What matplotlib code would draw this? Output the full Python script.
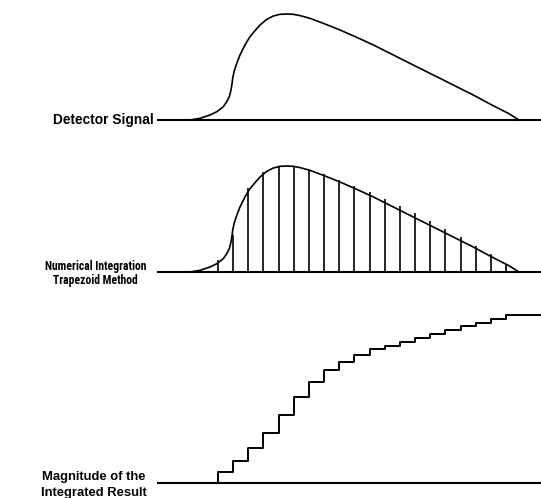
import numpy as np
import matplotlib
matplotlib.use("Agg")
import matplotlib.pyplot as plt
from matplotlib import font_manager

plt.rcParams["font.family"] = ["Liberation Sans", "DejaVu Sans"]

#### Data ####

# detector signal trace (time in sample intervals, amplitude normalised to peak)
signal_t = [-0.84, -0.18, 0.47, 0.92, 1.35, 1.58, 1.75, 1.86, 1.93, 1.97, 2.06,
            2.24, 2.45, 2.78, 3.11, 3.44, 3.77, 4.22, 4.65, 5.09, 5.53, 5.97,
            6.41, 7.07, 7.95, 9.05, 10.15, 11.25, 12.35, 13.45, 14.54, 15.65,
            16.75, 17.84, 18.94, 20.15, 20.86]
signal_v = [0.0, 0.016, 0.047, 0.078, 0.125, 0.173, 0.22, 0.283, 0.346, 0.393,
            0.456, 0.535, 0.613, 0.708, 0.786, 0.842, 0.896, 0.95, 0.981, 0.997,
            1.0, 0.997, 0.985, 0.959, 0.912, 0.849, 0.78, 0.708, 0.629, 0.55,
            0.472, 0.393, 0.314, 0.236, 0.151, 0.063, 0.0]

# sample points used by the trapezoid integration
sample_t = [1, 2, 3, 4, 5, 6, 7, 8, 9, 10, 11, 12, 13, 14, 15, 16, 17, 18, 19, 20]
sample_v = [0.113, 0.35, 0.792, 0.943, 1.0, 1.0, 0.962, 0.925, 0.868, 0.811,
            0.755, 0.689, 0.623, 0.557, 0.481, 0.406, 0.33, 0.245, 0.17, 0.075]

# running integral after each sample
integral_v = [0.067, 0.133, 0.21, 0.299, 0.402, 0.513, 0.602, 0.671, 0.717,
              0.761, 0.794, 0.816, 0.84, 0.863, 0.887, 0.907, 0.931, 0.952,
              0.974, 1.0]

labels = ["Detector Signal",
          "Numerical Integration\nTrapezoid Method",
          "Magnitude of the\nIntegrated Result"]

#### Plot ####

# narrow face for the middle label if one is around
names = {f.name for f in font_manager.fontManager.ttflist}
narrow = None
for cand in ["Liberation Sans Narrow", "Roboto Condensed", "Open Sans Condensed"]:
    if cand in names:
        narrow = cand
        break

W, H = 541, 498
fig = plt.figure(figsize=(W / 100, H / 100), dpi=100)

x_min, x_max = -13.38, 22.31
base_start = -3.0


def make_axes(top_px, bottom_px, base_px, px_per_unit):
    ax = fig.add_axes([0, (H - bottom_px) / H, 1, (bottom_px - top_px) / H])
    ax.set_xlim(x_min, x_max)
    ax.set_ylim(-(bottom_px - base_px) / px_per_unit, (base_px - top_px) / px_per_unit)
    ax.axis("off")
    ax.plot([base_start, x_max], [0, 0], color="black", lw=1.5,
            solid_capstyle="butt")
    return ax


lw = 1.2
txt = dict(fontweight="bold", color="black")

# Detector signal
ax1 = make_axes(0, 140, 120, 106)
ax1.plot(signal_t, signal_v, color="black", lw=lw)
ax1.text(base_start - 0.25, 0, labels[0], ha="right", va="center",
         fontsize=9.9, **txt)

# Trapezoid method
ax2 = make_axes(150, 290, 272, 106)
ax2.plot(signal_t, signal_v, color="black", lw=lw)
ax2.vlines(sample_t, 0, sample_v, color="black", lw=lw)
if narrow:
    mid_font = dict(family=[narrow, "Liberation Sans"], fontsize=8.35, linespacing=1.13)
else:
    mid_font = dict(fontsize=7.6, linespacing=1.22)
ax2.text(-7.1, -0.015, labels[1], ha="center", va="center",
         multialignment="center", **mid_font, **txt)

# Integrated result
ax3 = make_axes(300, 498, 483, 168.3)
step_x = [sample_t[0]] + sample_t + [x_max]
step_y = [0] + integral_v + [integral_v[-1]]
ax3.step(step_x, step_y, where="post", color="black", lw=1.4)
ax3.text(-7.2, -0.012, labels[2], ha="center", va="center",
         multialignment="center", linespacing=1.4, fontsize=9.4, **txt)

fig.savefig("out.png", dpi=100, facecolor="white")
plt.close(fig)
